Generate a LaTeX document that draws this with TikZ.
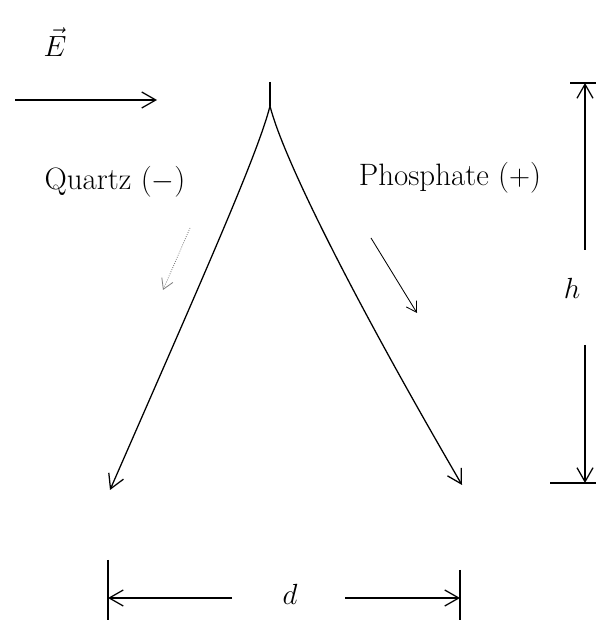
\documentclass[tikz,border=0pt]{standalone}
\usetikzlibrary{arrows.meta,positioning}
\tikzset{sketchline/.style={line width=0.9pt, black},
  sketcharrow/.style={-{Straight Barb[length=3.5mm, width=4mm]}, line width=0.9pt},
  hintarrow/.style={-{Straight Barb[length=2.5mm, width=3mm]}, line width=0.6pt},
  barline/.style={line width=1.1pt},
  label/.style={font=\fontsize{22}{26}\selectfont, inner sep=0pt},
  sketch/.style={x=0.025cm, y=0.025cm}}

\begin{document}
\begin{tikzpicture}[sketch]
    \useasboundingbox (0,0) rectangle (596,624);
    % field
    \node[label] (efield) at (55,582) {$\vec{E}$};
    \coordinate (ein) at (15,524);
    \coordinate (eout) at (157,524);
    \draw[sketcharrow] (ein) -- (eout);
    % apex and the two beams
    \coordinate (tip) at (270,542);
    \coordinate (apex) at (270,518);
    \coordinate (qend) at (110,134);
    \coordinate (pend) at (462,139);
    \draw[sketchline] (tip) -- (apex);
    \draw[sketcharrow] (apex) .. controls (258,470) and (200,340) .. (qend);
    \draw[sketcharrow] (apex) .. controls (282,470) and (345,340) .. (pend);
    \node[label] (quartz) at (115,442) {Quartz ($-$)};
    \node[label] (phos) at (450,446) {Phosphate ($+$)};
    \coordinate (qa) at (190,396);
    \coordinate (qb) at (163,334);
    \coordinate (pa) at (371,386);
    \coordinate (pb) at (417,311);
    \draw[hintarrow, densely dotted, gray] (qa) -- (qb);
    \draw[hintarrow] (pa) -- (pb);
    % height
    \node[label] (hlab) at (572,336) {$h$};
    \coordinate (htop) at (585,541);
    \coordinate (hbot) at (585,141);
    \draw[barline] (570,541) -- (596,541);
    \draw[barline] (550,141) -- (596,141);
    \draw[sketcharrow] (585,374) -- (htop);
    \draw[sketcharrow] (585,279) -- (hbot);
    % width
    \node[label] (dlab) at (290,30) {$d$};
    \coordinate (dleft) at (108,26);
    \coordinate (dright) at (460,26);
    \draw[barline] (108,64) -- (108,4);
    \draw[barline] (460,54) -- (460,4);
    \draw[sketcharrow] (232,26) -- (dleft);
    \draw[sketcharrow] (345,26) -- (dright);
  \end{tikzpicture}
\end{document}
